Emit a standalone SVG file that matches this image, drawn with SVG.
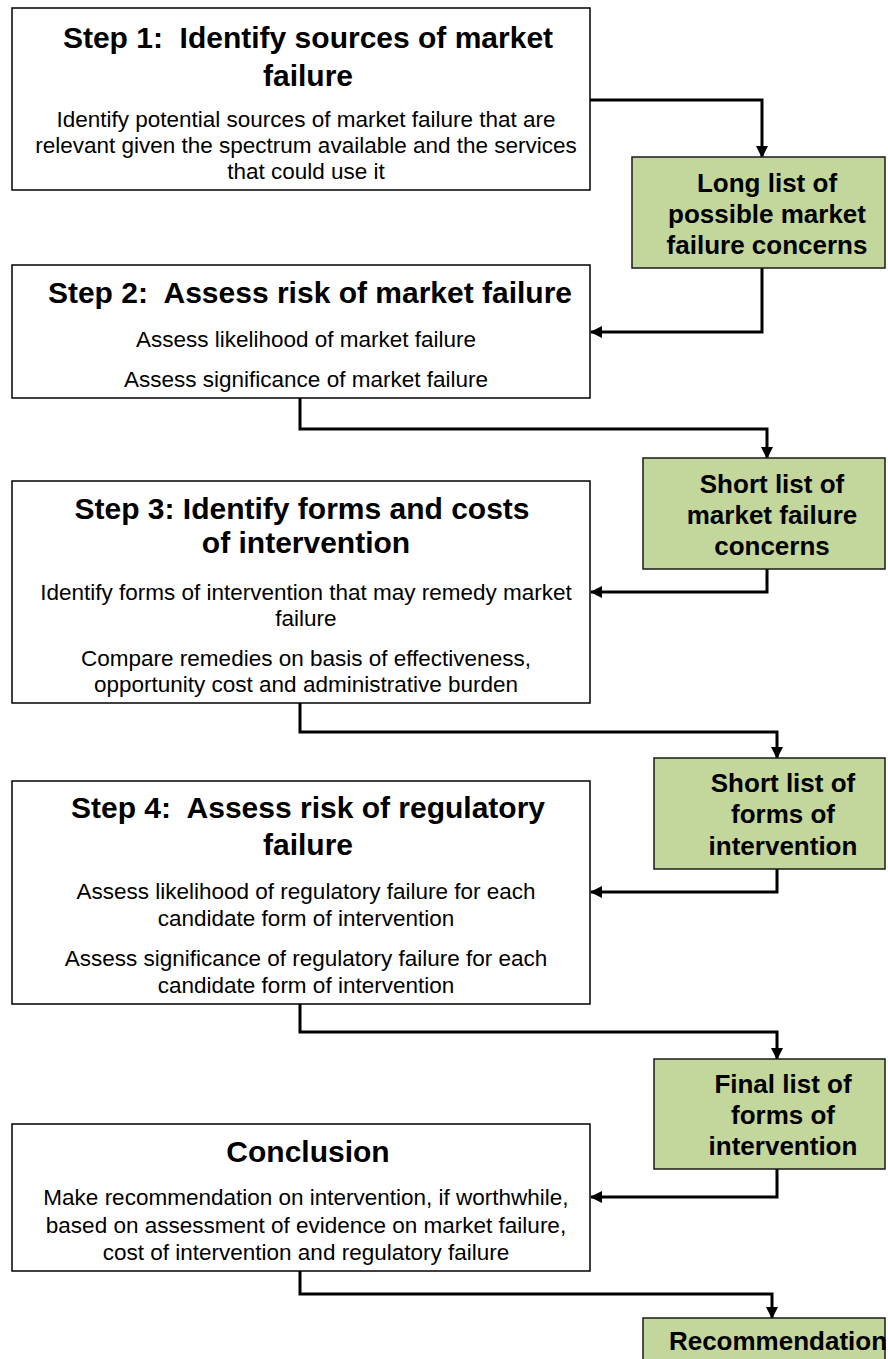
<svg xmlns="http://www.w3.org/2000/svg" width="888" height="1359" viewBox="0 0 888 1359">
  <style>
    .step { fill: #ffffff; stroke: #000000; stroke-width: 1.5; }
    .out { fill: #c3d69b; stroke: #1a1a1a; stroke-width: 1.5; }
    .title { font-family: "Liberation Sans", Arial, sans-serif; font-weight: bold; font-size: 30px; fill: #000; text-anchor: middle; white-space: pre; }
    .body { font-family: "Liberation Sans", Arial, sans-serif; font-size: 22.5px; fill: #000; text-anchor: middle; }
    .list { font-family: "Liberation Sans", Arial, sans-serif; font-weight: bold; font-size: 26px; fill: #000; text-anchor: middle; }
    .conn { fill: none; stroke: #000000; stroke-width: 3; marker-end: url(#arrow); }
  </style>
  <defs>
    <marker id="arrow" markerUnits="userSpaceOnUse" viewBox="0 0 12 12" markerWidth="12" markerHeight="12" refX="11" refY="6" orient="auto">
      <path d="M0,0 L12,6 L0,12 z" fill="#000"/>
    </marker>
  </defs>

  <!-- connectors -->
  <g id="connectors">
    <path class="conn" d="M590,100 H762 V157"/>
    <path class="conn" d="M762,268 V332 H591"/>
    <path class="conn" d="M300,398 V429 H767 V458"/>
    <path class="conn" d="M767,569 V592 H591"/>
    <path class="conn" d="M300,703 V732 H777 V758"/>
    <path class="conn" d="M777,869 V892 H591"/>
    <path class="conn" d="M300,1004 V1032 H777 V1059"/>
    <path class="conn" d="M777,1169 V1197 H591"/>
    <path class="conn" d="M300,1271 V1294 H772 V1318"/>
  </g>

  <!-- step boxes -->
  <g id="step1">
    <rect class="step" x="12" y="8" width="578" height="182"/>
    <text class="title" x="308" y="48" xml:space="preserve">Step 1:  Identify sources of market</text>
    <text class="title" x="308" y="86">failure</text>
    <text class="body" x="306" y="127">Identify potential sources of market failure that are</text>
    <text class="body" x="306" y="153">relevant given the spectrum available and the services</text>
    <text class="body" x="306" y="179">that could use it</text>
  </g>

  <g id="list1">
    <rect class="out" x="632" y="157" width="253" height="111"/>
    <text class="list" x="767" y="192">Long list of</text>
    <text class="list" x="767" y="223">possible market</text>
    <text class="list" x="767" y="254">failure concerns</text>
  </g>

  <g id="step2">
    <rect class="step" x="12" y="265" width="578" height="133"/>
    <text class="title" x="310" y="303" xml:space="preserve">Step 2:  Assess risk of market failure</text>
    <text class="body" x="306" y="347">Assess likelihood of market failure</text>
    <text class="body" x="306" y="387">Assess significance of market failure</text>
  </g>

  <g id="list2">
    <rect class="out" x="643" y="458" width="242" height="111"/>
    <text class="list" x="772" y="493">Short list of</text>
    <text class="list" x="772" y="524">market failure</text>
    <text class="list" x="772" y="555">concerns</text>
  </g>

  <g id="step3">
    <rect class="step" x="12" y="481" width="578" height="222"/>
    <text class="title" x="302" y="519">Step 3: Identify forms and costs</text>
    <text class="title" x="306" y="553">of intervention</text>
    <text class="body" x="306" y="600">Identify forms of intervention that may remedy market</text>
    <text class="body" x="306" y="626">failure</text>
    <text class="body" x="306" y="666">Compare remedies on basis of effectiveness,</text>
    <text class="body" x="306" y="692">opportunity cost and administrative burden</text>
  </g>

  <g id="list3">
    <rect class="out" x="654" y="758" width="231" height="111"/>
    <text class="list" x="783" y="792">Short list of</text>
    <text class="list" x="783" y="823">forms of</text>
    <text class="list" x="783" y="855">intervention</text>
  </g>

  <g id="step4">
    <rect class="step" x="12" y="781" width="578" height="223"/>
    <text class="title" x="308" y="818" xml:space="preserve">Step 4:  Assess risk of regulatory</text>
    <text class="title" x="308" y="855">failure</text>
    <text class="body" x="306" y="899">Assess likelihood of regulatory failure for each</text>
    <text class="body" x="306" y="926">candidate form of intervention</text>
    <text class="body" x="306" y="966">Assess significance of regulatory failure for each</text>
    <text class="body" x="306" y="993">candidate form of intervention</text>
  </g>

  <g id="list4">
    <rect class="out" x="654" y="1059" width="231" height="110"/>
    <text class="list" x="783" y="1093">Final list of</text>
    <text class="list" x="783" y="1124">forms of</text>
    <text class="list" x="783" y="1155">intervention</text>
  </g>

  <g id="conclusion">
    <rect class="step" x="12" y="1124" width="578" height="147"/>
    <text class="title" x="308" y="1162">Conclusion</text>
    <text class="body" x="306" y="1205">Make recommendation on intervention, if worthwhile,</text>
    <text class="body" x="306" y="1233">based on assessment of evidence on market failure,</text>
    <text class="body" x="306" y="1260">cost of intervention and regulatory failure</text>
  </g>

  <g id="recommendation">
    <rect class="out" x="643" y="1318" width="242" height="50"/>
    <text class="list" x="778" y="1350">Recommendation</text>
  </g>
</svg>
